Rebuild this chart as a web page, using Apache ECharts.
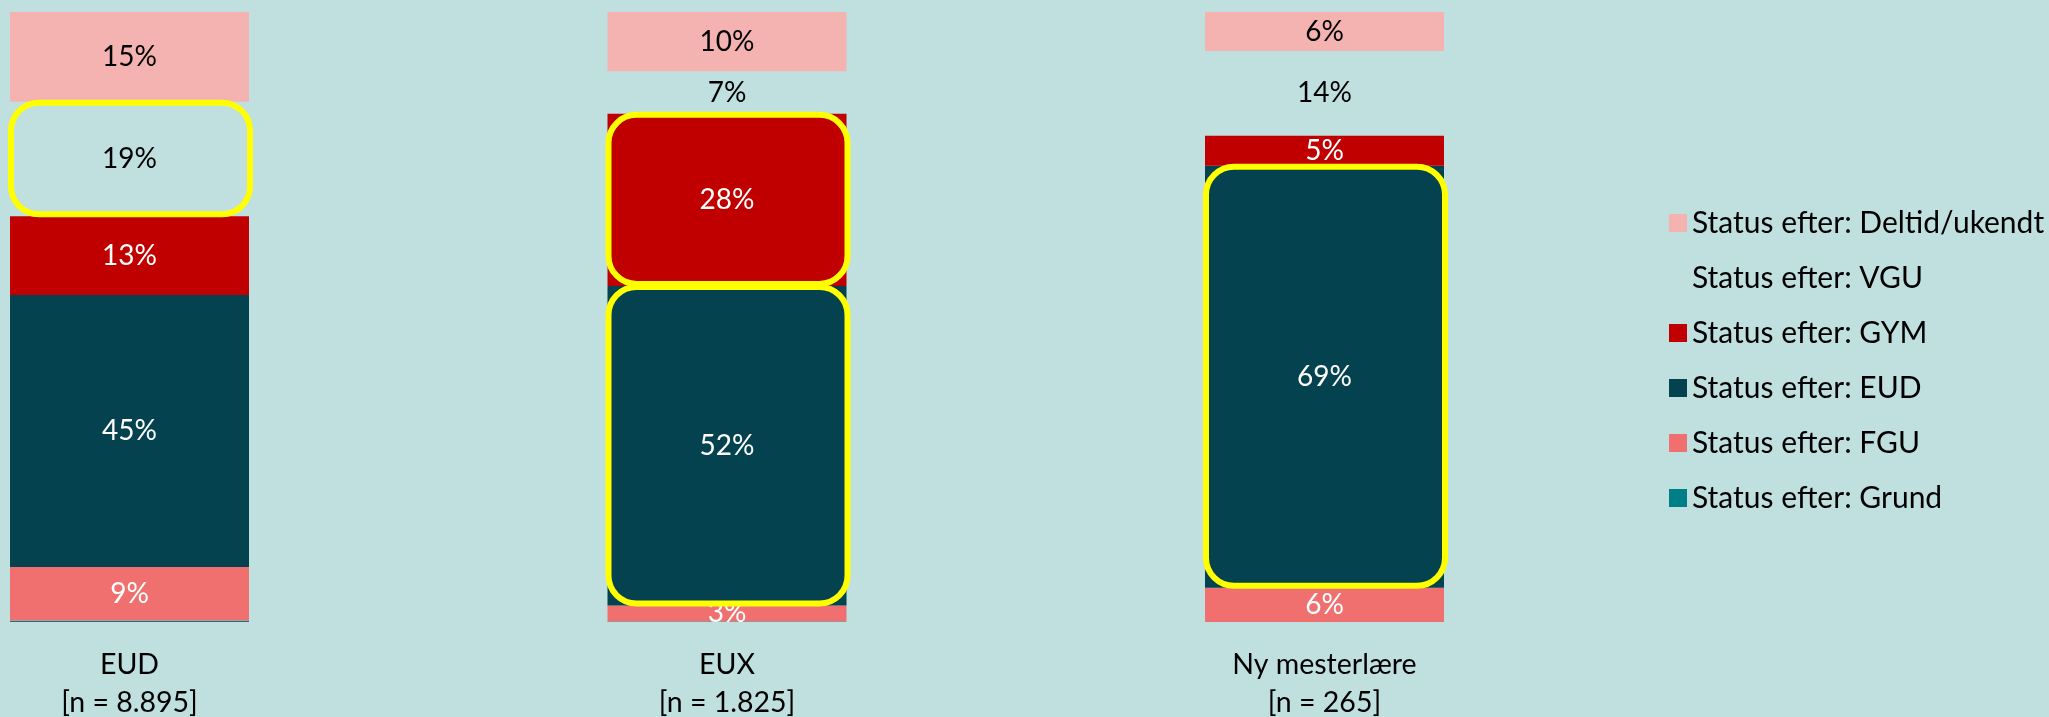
<!DOCTYPE html>
<html>
<head>
<meta charset="utf-8">
<script src="https://cdn.jsdelivr.net/npm/echarts@6/dist/echarts.min.js"></script>
<style>
  html, body { margin: 0; padding: 0; background: #BFE0DE; }
  #chart { width: 2049px; height: 717px; }
</style>
</head>
<body>
<div id="chart"></div>
<script>
  // categories and shares (percent), bottom of the stack first
  const categories = ['EUD\n[n = 8.895]', 'EUX\n[n = 1.825]', 'Ny mesterlære\n[n = 265]']
  const grund = [0.2, 0.1, 0]
  const fgu = [8.8, 2.6, 5.6]
  const eud = [44.6, 52.4, 69.2]
  const gym = [12.9, 28.2, 4.9]
  const vgu = [18.8, 7.0, 13.9]
  const deltid = [14.7, 9.7, 6.4]

  // segments marked with a yellow frame: [category index, series name]
  const highlights = [[0, 'VGU'], [1, 'GYM'], [1, 'EUD'], [2, 'EUD']]

  const stackOrder = [
    { key: 'Grund', data: grund, color: '#007F89', label: '#fff' },
    { key: 'FGU', data: fgu, color: '#F07070', label: '#fff' },
    { key: 'EUD', data: eud, color: '#03424E', label: '#fff' },
    { key: 'GYM', data: gym, color: '#C00000', label: '#fff' },
    { key: 'VGU', data: vgu, color: 'transparent', label: '#000' },
    { key: 'Deltid/ukendt', data: deltid, color: '#F4B3B1', label: '#000' }
  ]

  const font = 'Lato, "Noto Sans", sans-serif'
  const barRatio = 0.4

  const barSeries = stackOrder.map(s => ({
    name: 'Status efter: ' + s.key,
    type: 'bar',
    stack: 'total',
    clip: false,
    barWidth: (barRatio * 100) + '%',
    data: s.data,
    itemStyle: { color: s.color },
    label: {
      show: s.key !== 'Grund',
      position: 'inside',
      color: s.label,
      fontFamily: font,
      fontSize: 28,
      formatter: p => (p.value < 1 ? '' : Math.round(p.value) + '%')
    },
    z: 2
  }))

  // frames computed from the cumulative stack
  const frameData = highlights.map(([ci, key]) => {
    let start = 0
    for (const s of stackOrder) {
      if (s.key === key) {
        return [ci, start, start + s.data[ci]]
      }
      start += s.data[ci]
    }
  })

  const frameSeries = {
    type: 'custom',
    name: 'frames',
    z: 10,
    silent: true,
    clip: false,
    data: frameData,
    renderItem(params, api) {
      const ci = api.value(0)
      const p0 = api.coord([ci, api.value(1)])
      const p1 = api.coord([ci, api.value(2)])
      const w = api.size([1, 0])[0] * barRatio
      return {
        type: 'rect',
        shape: { x: p0[0] - w / 2 + 1, y: p1[1] + 1, width: w, height: p0[1] - p1[1] - 3, r: 28 },
        style: { fill: 'none', stroke: '#FFFF00', lineWidth: 6 }
      }
    }
  }

  const chart = echarts.init(document.getElementById('chart'))
  chart.setOption({
    backgroundColor: '#BFE0DE',
    animation: false,
    grid: { left: 129.5, top: 12, width: 1195, height: 610, outerBoundsMode: 'none' },
    xAxis: {
      type: 'category',
      boundaryGap: false,
      data: categories,
      axisLine: { show: false },
      axisTick: { show: false },
      axisLabel: {
        color: '#000',
        fontFamily: font,
        fontSize: 28.5,
        lineHeight: 38,
        margin: 24
      }
    },
    yAxis: {
      type: 'value',
      min: 0,
      max: 100,
      show: false,
      splitLine: { show: false }
    },
    legend: {
      orient: 'vertical',
      left: 1669,
      top: 208,
      padding: 0,
      itemWidth: 18,
      itemHeight: 18,
      itemGap: 25,
      icon: 'rect',
      data: stackOrder.slice().reverse().map(s => 'Status efter: ' + s.key),
      textStyle: { color: '#000', fontFamily: font, fontSize: 30, lineHeight: 30 }
    },
    series: [...barSeries, frameSeries]
  })
</script>
</body>
</html>
